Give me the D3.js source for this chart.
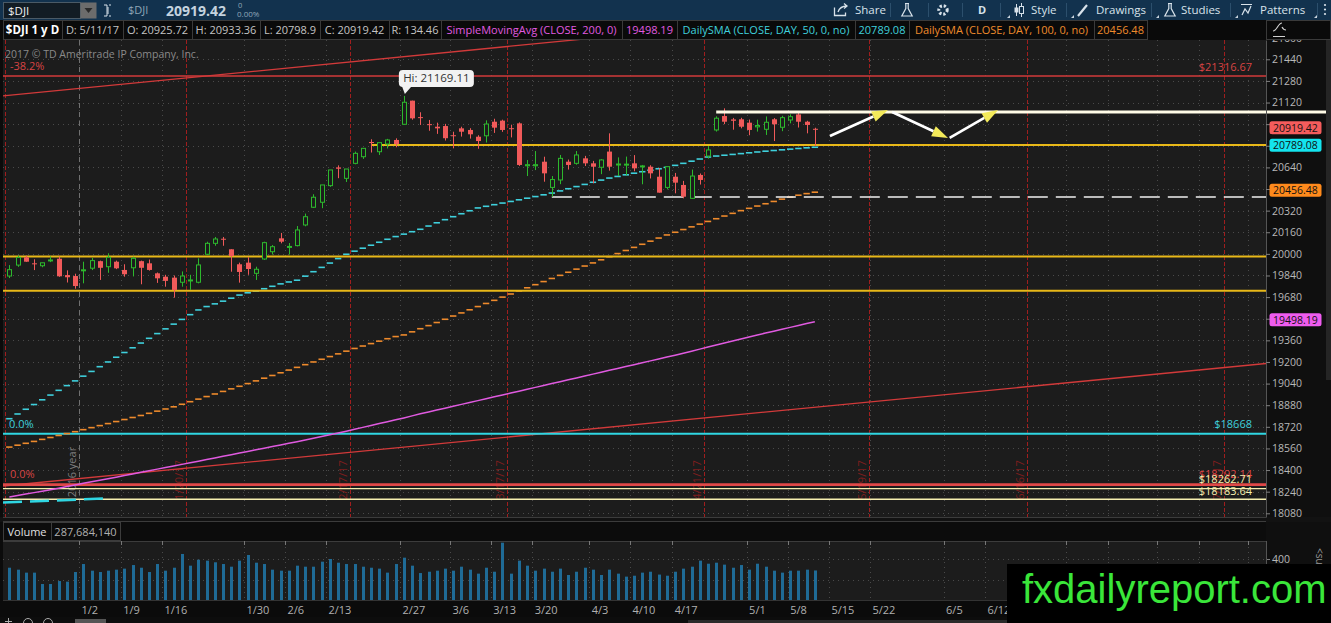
<!DOCTYPE html>
<html>
<head>
<meta charset="utf-8">
<script src="https://cdn.jsdelivr.net/npm/d3@7"></script>
<style>
  body { margin: 0; background: #0b0b0b; overflow: hidden; }
  svg { display: block; }
  text { font-family: "Open Sans", "DejaVu Sans", sans-serif; }
</style>
</head>
<body>
<svg id="chart" width="1331" height="623"></svg>
<script>
const open = [19836,19917,19974,19930,19912,19951,19964,19843,19836,19876,
  19894,19946,19905,19942,19881,19897,19946,19930,19856,19831,
  19824,19790,19800,19790,19997,20078,20112,20034,19923,19935,
  19856,19962,20016,20115,20050,20061,20214,20345,20382,20505,
  20640,20559,20670,20719,20828,20756,20813,20843,20959,21134,
  21012,20960,20941,20946,20878,20929,20917,20867,20874,20978,
  20986,20930,20966,20652,20652,20682,20492,20547,20682,20670,
  20707,20670,20641,20757,20660,20660,20670,20648,20645,20571,
  20492,20571,20510,20411,20584,20724,20917,21020,20995,20996,
  20971,20940,20922,20996,20937,20991,21032,20978,20925.72];
const high = [19917,19988,19987,19960,19934,19981,19981,19878,19853,19942,
  19970,19950,20004,19950,19923,19979,19950,19958,19862,19845,
  19840,19870,19845,19967,20090,20125,20125,20034,19935,19975,
  19905,20090,20065,20155,20080,20206,20298,20441,20510,20621,
  20655,20628,20757,20781,20848,20823,20851,20855,21169,21134,
  21048,20991,20971,20962,20904,20941,20930,20878,20988,21000,
  20993,20956,20973,20695,20761,20719,20576,20732,20698,20761,
  20725,20688,20701,20892,20714,20720,20731,20658,20656,20633,
  20645,20599,20540,20624,20595,20798,21018,21077,21006,21007,
  20994,20993,21017,21005,21022,21033,21046,20985,20933.36];
const low = [19821,19904,19941,19880,19901,19939,19830,19788,19742,19782,
  19880,19807,19860,19887,19831,19833,19775,19876,19785,19757,
  19676,19757,19733,19782,19990,20060,20060,19868,19787,19845,
  19807,19955,19995,20078,19995,20055,20204,20339,20338,20496,
  20560,20532,20663,20703,20750,20732,20780,20789,20957,20993,
  20954,20911,20888,20839,20781,20868,20853,20778,20824,20895,
  20903,20862,20651,20576,20620,20534,20423,20516,20624,20660,
  20650,20522,20590,20616,20576,20581,20611,20515,20558,20453,
  20477,20448,20411,20407,20513,20705,20905,20960,20919,20929,
  20878,20905,20880,20835,20908,20966,20935,20892,20798.9];
const close = [19883,19974,19942,19926,19934,19955,19834,19827,19762,19882,
  19950,19897,19975,19893,19849,19967,19897,19881,19819,19800,
  19733,19836,19807,19918,20078,20110,20106,19984,19866,19888,
  19886,20083,20053,20090,20055,20177,20275,20419,20510,20621,
  20630,20628,20744,20781,20820,20823,20843,20813,21122,21003,
  21006,20954,20929,20856,20872,20904,20885,20835,20961,20934,
  20917,20924,20658,20660,20660,20596,20550,20707,20658,20732,
  20670,20645,20695,20645,20665,20664,20633,20651,20596,20453,
  20645,20527,20423,20576,20547,20769,21004,20978,20985,20941,
  20917,20950,20974,20959,21008,21015,20978,20954,20919.42];
// volume, millions of shares
const volume = [315,296,267,267,156,156,185,179,273,351,
  286,273,286,296,306,341,315,273,351,286,
  315,449,335,393,384,368,351,325,384,439,
  364,351,296,286,286,335,325,325,374,400,
  364,351,351,325,315,306,267,351,413,335,
  263,276,286,306,286,325,296,257,315,276,
  559,257,384,335,286,306,276,306,244,276,
  315,296,244,296,257,228,237,267,276,248,
  237,276,306,325,384,354,364,345,315,341,
  296,354,325,286,267,286,286,296,288];
const sma50 = [18780,18815,18850,18885,18920,18955,18990,19025,19060,19095,
  19130,19165,19200,19235,19270,19305,19340,19375,19410,19445,
  19480,19515,19550,19585,19610,19630,19650,19672,19695,19712,
  19725,19742,19760,19778,19792,19805,19835,19868,19900,19932,
  19965,19997,20020,20042,20064,20086,20108,20128,20146,20164,
  20182,20206,20230,20253,20275,20297,20319,20340,20352,20364,
  20376,20388,20400,20412,20424,20437,20450,20466,20482,20498,
  20514,20530,20546,20561,20573,20585,20597,20608,20619,20630,
  20640,20655,20670,20686,20702,20717,20724,20730,20736,20742,
  20748,20754,20760,20765,20770,20775,20780,20785,20789.08];
const sma100 = [18570,18584,18598,18612,18627,18641,18656,18670,18684,18699,
  18714,18729,18744,18759,18774,18789,18804,18820,18836,18852,
  18868,18887,18906,18925,18944,18963,18982,19001,19020,19040,
  19060,19080,19100,19120,19140,19160,19180,19200,19220,19240,
  19260,19280,19300,19318,19336,19354,19372,19388,19400,19423,
  19446,19469,19492,19516,19540,19563,19586,19610,19633,19656,
  19680,19703,19726,19749,19772,19795,19818,19841,19864,19887,
  19910,19933,19956,19979,20002,20025,20048,20071,20094,20117,
  20140,20160,20180,20200,20220,20240,20260,20280,20300,20320,
  20337,20354,20371,20388,20405,20420,20434,20446,20456.48];
const sma200 = [18200,18211,18222,18233,18244,18255,18266,18278,18290,18302,
  18314,18325,18336,18347,18359,18371,18383,18395,18407,18419,
  18430,18442,18454,18466,18478,18490,18502,18514,18526,18538,
  18550,18562,18574,18586,18598,18610,18623,18636,18649,18662,
  18675,18688,18702,18716,18730,18744,18758,18772,18786,18801,
  18816,18830,18844,18858,18872,18886,18900,18914,18928,18942,
  18956,18970,18984,18998,19012,19026,19040,19054,19068,19082,
  19096,19110,19124,19138,19152,19166,19180,19194,19208,19222,
  19236,19250,19265,19280,19295,19310,19325,19340,19355,19370,
  19385,19400,19414,19428,19442,19456,19470,19484,19498.19];

const priceTicks = [18080,18240,18400,18560,18720,18880,19040,19200,19360,19520,19680,19840,
  20000,20160,20320,20480,20640,20800,20960,21120,21280,21440,21600];
const volTicks = [200, 400];
// labels past 6/12 sit under the watermark, so only their grid lines show
const tickLabels = ["1/2","1/9","1/16","1/30","2/6","2/13","2/27","3/6","3/13","3/20","4/3","4/10",
  "4/17","5/1","5/8","5/15","5/22","6/5","6/12","","","","",""];
const tickIdx = [8.48,13.55,18.57,28.55,33.54,38.52,47.53,53.61,58.56,63.62,70.56,75.51,
  80.65,89.7,94.7,99.72,104.7,113.66,118.7,128.55,133.66,139.6,144.7,150.7];
const expiryLabels = ["", "1/20/17", "2/17/17", "3/17/17", "4/21/17", "5/19/17", "6/16/17", "7/21/17"];
const expiryIdx = [-0.5, 21.5, 41.5, 60.5, 84.5, 104.6, 123.8, 147.8];
const yearIdx = 8.5;

// drawings on the chart (bar index, price)
const redLevels = [21316.67, 18292.14];
const creamLevels = [18262.71, 18183.64];
const cyanLevel = 18668;
const yellowLevels = [20806, 19980, 19727];
const yellowStart = [44, -0.77, -0.77];
const whiteLevel = 21050, whiteStart = 86;
const dashLevel = 20421, dashStart = 66;
const channelUpper = [[-0.77, 21169], [152.95, 22085]];
const channelLower = [[-0.77, 18282], [152.95, 19189]];
const cyanStub = [[-0.77, 18160], [11.88, 18190]];
const arrowFrom = [[99.84, 20872], [107.4, 21050], [114.4, 20858]];
const arrowTo = [[106.9, 21065], [114.2, 20858], [120.3, 21065]];
const hiIdx = 48, hiPrice = 21169.11;

// ---- colours ----
const BG = "#1c1c1c", UP = "#2db82d", DOWN = "#f05a5a";
const CYAN = "#3fd0dc", ORANGE = "#ee8a2c", MAGENTA = "#e05ae0", YELLOW = "#e8b818";

const svg = d3.select("#chart");
const x = d3.scaleLinear().domain([-0.77, 152.95]).range([3, 1266.5]);
const y = d3.scaleLinear().domain([18052.6, 21582.8]).range([517, 40]);
const yv = d3.scaleLinear().domain([0, 400]).range([600, 559]);
const cx = i => Math.round(x(i)) + 0.5;
const idx = d3.range(close.length);

svg.append("defs").append("clipPath").attr("id", "clipP")
  .append("rect").attr("x", 3).attr("y", 40).attr("width", 1263).attr("height", 477);

// backgrounds
svg.append("rect").attr("width", 1331).attr("height", 623).attr("fill", "#0b0b0b");
svg.append("rect").attr("x", 1266).attr("y", 40).attr("width", 65).attr("height", 577).attr("fill", "#0f0f0f");
svg.append("rect").attr("x", 3).attr("y", 40).attr("width", 1263).attr("height", 477).attr("fill", BG);
svg.append("rect").attr("x", 3).attr("y", 541).attr("width", 1263).attr("height", 59).attr("fill", BG);
svg.append("rect").attr("x", 0).attr("y", 517).attr("width", 1331).attr("height", 5).attr("fill", "#121212");
[517.5, 521.5, 541.5].forEach(v => svg.append("line").attr("x1", 3).attr("x2", 1266)
  .attr("y1", v).attr("y2", v).attr("stroke", "#3c3c3c"));
svg.append("line").attr("x1", 3).attr("x2", 1266).attr("y1", 600.5).attr("y2", 600.5).attr("stroke", "#333");

// grid
const grid = svg.append("g").attr("stroke", "#4a4a4a").attr("stroke-dasharray", "1,4");
grid.selectAll("line.h").data(priceTicks).join("line").attr("class", "h")
  .attr("x1", 3).attr("x2", 1266)
  .attr("y1", d => Math.round(y(d)) + 0.5).attr("y2", d => Math.round(y(d)) + 0.5);
grid.selectAll("line.hv").data(volTicks).join("line").attr("class", "hv")
  .attr("x1", 3).attr("x2", 1266)
  .attr("y1", d => Math.round(yv(d)) + 0.5).attr("y2", d => Math.round(yv(d)) + 0.5);
grid.selectAll("line.v").data(tickIdx).join("line").attr("class", "v")
  .attr("x1", cx).attr("x2", cx).attr("y1", 40).attr("y2", 517);
grid.selectAll("line.vv").data(tickIdx).join("line").attr("class", "vv")
  .attr("x1", cx).attr("x2", cx).attr("y1", 542).attr("y2", 600);

const pane = svg.append("g").attr("clip-path", "url(#clipP)");

// year separator
pane.append("line").attr("x1", cx(yearIdx)).attr("x2", cx(yearIdx)).attr("y1", 40).attr("y2", 517)
  .attr("stroke", "#707070").attr("stroke-dasharray", "5,4");
pane.append("text").attr("transform", `translate(${cx(yearIdx) - 4},472) rotate(-90)`)
  .attr("text-anchor", "middle").attr("font-size", 11).attr("fill", "#7c7c7c").text("2016 year");

// expiration lines
pane.selectAll("line.exp").data(expiryIdx).join("line").attr("class", "exp")
  .attr("x1", cx).attr("x2", cx).attr("y1", 40).attr("y2", 517)
  .attr("stroke", "#a01e1e").attr("stroke-dasharray", "4,2");
pane.selectAll("text.exp").data(expiryIdx).join("text").attr("class", "exp")
  .attr("transform", d => `translate(${cx(d) - 4},480) rotate(-90)`)
  .attr("text-anchor", "middle").attr("font-size", 11).attr("fill", "#7e1e1e")
  .text((d, i) => expiryLabels[i]);

// channel lines
const seg = (g, p, col, w) => g.append("line")
  .attr("x1", x(p[0][0])).attr("y1", y(p[0][1])).attr("x2", x(p[1][0])).attr("y2", y(p[1][1]))
  .attr("stroke", col).attr("stroke-width", w);
seg(pane, channelUpper, "#d23a3a", 1.3);
seg(pane, channelLower, "#d23a3a", 1.3);

// horizontal levels
pane.append("line").attr("x1", 3).attr("x2", 1266).attr("y1", y(redLevels[0])).attr("y2", y(redLevels[0]))
  .attr("stroke", "#d23a3a").attr("stroke-width", 1.5);
pane.append("line").attr("x1", 3).attr("x2", 1266).attr("y1", y(redLevels[1])).attr("y2", y(redLevels[1]))
  .attr("stroke", "#e04848").attr("stroke-width", 2.6);
creamLevels.forEach(v => pane.append("line").attr("x1", 3).attr("x2", 1266).attr("y1", y(v)).attr("y2", y(v))
  .attr("stroke", "#f6efb0").attr("stroke-width", 1.4));
pane.append("line").attr("x1", 3).attr("x2", 1266).attr("y1", y(cyanLevel)).attr("y2", y(cyanLevel))
  .attr("stroke", "#2fd6e2").attr("stroke-width", 2);
seg(pane, cyanStub, "#2fd6e2", 2.5).attr("stroke-dasharray", "19,8");

// moving averages
pane.append("path").datum(sma200)
  .attr("d", d3.line().x((d, i) => x(i)).y(d => y(d)))
  .attr("fill", "none").attr("stroke", MAGENTA).attr("stroke-width", 1.5);
[[sma100, ORANGE], [sma50, CYAN]].forEach(([s, col]) => {
  pane.append("g").selectAll("line").data(s).join("line")
    .attr("x1", (d, i) => x(i) - 3.2).attr("x2", (d, i) => x(i) + 3.2)
    .attr("y1", d => y(d)).attr("y2", d => y(d))
    .attr("stroke", col).attr("stroke-width", 1.6);
});

// yellow support / resistance
yellowLevels.forEach((v, k) => pane.append("line")
  .attr("x1", x(yellowStart[k])).attr("x2", 1266).attr("y1", y(v)).attr("y2", y(v))
  .attr("stroke", YELLOW).attr("stroke-width", 2));
pane.append("line").attr("x1", x(dashStart)).attr("x2", 1266).attr("y1", y(dashLevel)).attr("y2", y(dashLevel))
  .attr("stroke", "#f0f0f0").attr("stroke-width", 1.6).attr("stroke-dasharray", "20,8");

// candles
pane.selectAll("line.wick").data(idx).join("line").attr("class", "wick")
  .attr("x1", cx).attr("x2", cx)
  .attr("y1", i => y(high[i])).attr("y2", i => y(low[i]))
  .attr("stroke", i => close[i] >= open[i] ? UP : DOWN);
pane.selectAll("rect.body").data(idx).join("rect").attr("class", "body")
  .attr("x", i => close[i] >= open[i] ? cx(i) - 2 : cx(i) - 2.5)
  .attr("width", i => close[i] >= open[i] ? 4 : 5)
  .attr("y", i => y(Math.max(open[i], close[i])))
  .attr("height", i => Math.max(1, Math.abs(y(open[i]) - y(close[i]))))
  .attr("fill", i => close[i] >= open[i] ? BG : DOWN)
  .attr("stroke", i => close[i] >= open[i] ? UP : "none");

// level labels inside the pane
const lbl = (t, px, py, col, anchor) => svg.append("text").attr("x", px).attr("y", py)
  .attr("text-anchor", anchor || "end").attr("font-size", 11).attr("fill", col).text(t);
const money = d3.format(".2f");
lbl("$" + money(redLevels[0]), 1252, y(redLevels[0]) - 5, "#d84444");
lbl("$" + cyanLevel, 1252, y(cyanLevel) - 6, CYAN);
lbl("$" + money(redLevels[1]), 1252, y(redLevels[1]) - 6.5, "#d84444");
lbl("$" + money(creamLevels[0]), 1252, y(creamLevels[0]) - 5.5, "#f6efb0");
lbl("$" + money(creamLevels[1]), 1252, y(creamLevels[1]) - 4.5, "#f6efb0");
lbl("-38.2%", 10, y(redLevels[0]) - 5.5, "#d84444", "start");
lbl("0.0%", 9, y(cyanLevel) - 6, CYAN, "start");
lbl("0.0%", 10, y(redLevels[1]) - 6.5, "#d84444", "start");
svg.append("text").attr("x", 5).attr("y", 58).attr("font-size", 10.5).attr("fill", "#8a8a8a")
  .text("2017 \u00a9 TD Ameritrade IP Company, Inc.");

// white resistance line (runs over the axis to the window edge)
svg.append("line").attr("x1", x(whiteStart)).attr("x2", 1331).attr("y1", y(whiteLevel)).attr("y2", y(whiteLevel))
  .attr("stroke", "#fffbe6").attr("stroke-width", 3);

// arrows
arrowFrom.forEach((a, k) => {
  const b = arrowTo[k];
  const x0 = x(a[0]), y0 = y(a[1]), x1 = x(b[0]), y1 = y(b[1]);
  const L = Math.hypot(x1 - x0, y1 - y0), ux = (x1 - x0) / L, uy = (y1 - y0) / L;
  const bx = x1 - ux * 16, by = y1 - uy * 16;
  svg.append("line").attr("x1", x0).attr("y1", y0).attr("x2", bx).attr("y2", by)
    .attr("stroke", "#ffffff").attr("stroke-width", 2.6);
  svg.append("polygon")
    .attr("points", `${x1},${y1} ${bx - uy * 5.5},${by + ux * 5.5} ${bx + uy * 5.5},${by - ux * 5.5}`)
    .attr("fill", "#f3ea5a");
});

// high callout
const hx = x(hiIdx), hy = y(hiPrice);
svg.append("path").attr("d", `M${hx - 2},${hy - 10} L${hx + 1},${hy - 2} L${hx + 8},${hy - 10} Z`).attr("fill", "#f2f2f2");
svg.append("rect").attr("x", hx - 5).attr("y", hy - 26).attr("width", 75).attr("height", 17).attr("rx", 4)
  .attr("fill", "#f2f2f2");
svg.append("text").attr("x", hx + 32.5).attr("y", hy - 13.5).attr("text-anchor", "middle")
  .attr("font-size", 11.5).attr("fill", "#333").text("Hi: " + hiPrice.toFixed(2));

// volume bars
svg.append("g").selectAll("rect").data(volume).join("rect")
  .attr("x", (d, i) => Math.round(x(i)) - 1).attr("width", 3)
  .attr("y", d => yv(d)).attr("height", d => 600 - yv(d))
  .attr("fill", "#1f6b96");

// x tick marks at top of volume pane
svg.append("g").selectAll("line").data(tickIdx).join("line")
  .attr("x1", cx).attr("x2", cx).attr("y1", 541).attr("y2", 545).attr("stroke", "#777");

// colored last-value boxes on the price axis
const boxes = [[close[98], "#f45c5c"], [sma50[98], "#14e4ee"], [sma100[98], "#ff8a1c"], [sma200[98], "#ef5cef"]];
const boxY = boxes.map(b => y(b[0]) - 2);

// axes (labels covered by a value box are left out, as in the platform)
const yAxis = svg.append("g").attr("transform", "translate(1266,0)")
  .call(d3.axisRight(y).tickValues(priceTicks).tickSize(4).tickSizeOuter(0).tickPadding(2)
    .tickFormat(d => boxY.some(b => Math.abs(b - y(d)) < 9) ? "" : d3.format("d")(d)));
yAxis.select(".domain").attr("stroke", "#555");
yAxis.selectAll("line").attr("stroke", "#808080");
yAxis.selectAll("text").attr("fill", "#b8b8b8").attr("font-size", 10.5);
const vAxis = svg.append("g").attr("transform", "translate(1266,0)")
  .call(d3.axisRight(yv).tickValues(volTicks).tickSize(4).tickSizeOuter(0).tickPadding(2)
    .tickFormat(d => d === 400 ? "400" : ""));
vAxis.select(".domain").remove();
vAxis.selectAll("line").attr("stroke", "#808080");
vAxis.selectAll("text").attr("fill", "#b8b8b8").attr("font-size", 10.5);
svg.append("line").attr("x1", 1266.5).attr("x2", 1266.5).attr("y1", 541).attr("y2", 600).attr("stroke", "#555");

const xAxis = svg.append("g").attr("transform", "translate(0,600)")
  .call(d3.axisBottom(x).tickValues(tickIdx).tickFormat((d, i) => tickLabels[i]).tickSize(0).tickPadding(6));
xAxis.select(".domain").remove();
xAxis.selectAll("text").attr("text-anchor", "start").attr("x", 2).attr("fill", "#b0b0b0").attr("font-size", 11);

boxes.forEach(([v, col], k) => {
  const by = boxY[k];
  svg.append("rect").attr("x", 1269.5).attr("y", by - 6.5).attr("width", 52).attr("height", 13).attr("rx", 2.5)
    .attr("fill", col);
  svg.append("text").attr("x", 1295.5).attr("y", by + 4).attr("text-anchor", "middle")
    .attr("font-size", 10.5).attr("fill", "#111").text(money(v));
});

// volume header row
svg.append("rect").attr("x", 3).attr("y", 522).attr("width", 1263).attr("height", 19).attr("fill", "#0c0c0c");
[[3, 51, "Volume", "#e0e0e0"], [51, 120, d3.format(",")(287684140), "#b0b0b0"]].forEach(([a, b, t, col]) => {
  svg.append("rect").attr("x", a + 0.5).attr("y", 522.5).attr("width", b - a).attr("height", 18)
    .attr("fill", "none").attr("stroke", "#3c3c3c");
  svg.append("text").attr("x", (a + b) / 2).attr("y", 535.5).attr("text-anchor", "middle")
    .attr("font-size", 11).attr("fill", col).text(t);
});

// right side strip
svg.append("rect").attr("x", 1326).attr("y", 40).attr("width", 5).attr("height", 340).attr("fill", "#252525");
svg.append("text").attr("transform", "translate(1316,548) rotate(90)").attr("font-size", 10)
  .attr("fill", "#9a9a9a").text("<su");

// bottom strip
svg.append("rect").attr("x", 0).attr("y", 617).attr("width", 1331).attr("height", 6).attr("fill", "#0d0d0d");
svg.append("path").attr("d", "M5,621.5 h7 M8.5,618 v5").attr("stroke", "#aaa");
[28, 48].forEach(c => svg.append("circle").attr("cx", c).attr("cy", 623).attr("r", 4.5)
  .attr("fill", "none").attr("stroke", "#aaa"));
svg.append("rect").attr("x", 75).attr("y", 619).attr("width", 31).attr("height", 4).attr("fill", "#555");
svg.append("rect").attr("x", 688).attr("y", 620).attr("width", 320).attr("height", 3).attr("fill", "#2a2a2a");

// ---- toolbar (top row) ----
svg.append("rect").attr("x", 0).attr("y", 0).attr("width", 1331).attr("height", 20).attr("fill", "#12324e");
svg.append("rect").attr("x", 3.5).attr("y", 2.5).attr("width", 77).attr("height", 16).attr("fill", "#121c24").attr("stroke", "#4a5a66");
svg.append("text").attr("x", 8).attr("y", 15).attr("font-size", 11.5).attr("fill", "#f0f0f0").text("$DJI");
svg.append("rect").attr("x", 80.5).attr("y", 2.5).attr("width", 16).attr("height", 16).attr("fill", "#6c6c6c");
svg.append("path").attr("d", "M84.5,8 L92.5,8 L88.5,13 Z").attr("fill", "#2a2a2a");
svg.append("path").attr("d", "M104,5 h3 v11 h-3 M108,7 v7 M111,5 h-2 M111,16 h-2").attr("stroke", "#d8e2ea").attr("fill", "none");
svg.append("text").attr("x", 128).attr("y", 14).attr("font-size", 11).attr("fill", "#8fa6b8").text("$DJI");
svg.append("text").attr("x", 166).attr("y", 15.5).attr("font-size", 14).attr("font-weight", "bold").attr("fill", "#c4d3df").text("20919.42");
svg.append("text").attr("x", 238).attr("y", 8).attr("font-size", 7.5).attr("fill", "#8fa6b8").text("0");
svg.append("text").attr("x", 237).attr("y", 17).attr("font-size", 8).attr("fill", "#8fa6b8").text("0.00%");
[890, 928, 962, 1000, 1066, 1151, 1230, 1317].forEach(s => svg.append("line")
  .attr("x1", s + 0.5).attr("x2", s + 0.5).attr("y1", 3).attr("y2", 17).attr("stroke", "#2c4f6c"));
const tb = svg.append("g").attr("fill", "#d8e2ea").attr("font-size", 11.5);
tb.append("text").attr("x", 855).attr("y", 14).text("Share");
tb.append("text").attr("x", 1031).attr("y", 14).text("Style");
tb.append("text").attr("x", 1096).attr("y", 14).text("Drawings");
tb.append("text").attr("x", 1181).attr("y", 14).text("Studies");
tb.append("text").attr("x", 1260).attr("y", 14).text("Patterns");
tb.append("text").attr("x", 978).attr("y", 14).attr("font-weight", "bold").attr("font-size", 11).text("D");
svg.append("path").attr("d", "M834.5,7.5 v8 h11 v-3 M838,12 q2,-6 9,-6 M844,3.5 l3,2.5 l-3,2.5").attr("stroke", "#d8e2ea").attr("fill", "none").attr("stroke-width", 1.3);
const flask = (fx) => svg.append("path")
  .attr("d", `M${fx - 2},3.5 h4 M${fx - 1.2},3.5 v5 l-4,7.5 h10.4 l-4,-7.5 v-5`)
  .attr("stroke", "#d8e2ea").attr("fill", "none").attr("stroke-width", 1.2);
flask(907); flask(1170);
svg.append("circle").attr("cx", 943).attr("cy", 10).attr("r", 4.2).attr("fill", "none")
  .attr("stroke", "#d8e2ea").attr("stroke-width", 3).attr("stroke-dasharray", "2.2,1.8");
svg.append("circle").attr("cx", 943).attr("cy", 10).attr("r", 1.5).attr("fill", "#12324e");
svg.append("path").attr("d", "M1016.5,4 v12 M1021.5,3 v14").attr("stroke", "#d8e2ea");
svg.append("rect").attr("x", 1019.5).attr("y", 6.5).attr("width", 4).attr("height", 7).attr("fill", "#12324e").attr("stroke", "#d8e2ea");
svg.append("rect").attr("x", 1014.5).attr("y", 7.5).attr("width", 4).attr("height", 5).attr("fill", "#d8e2ea");
svg.append("path").attr("d", "M1078,16 l9,-11").attr("stroke", "#d8e2ea").attr("stroke-width", 2.2);
svg.append("path").attr("d", "M1241,4.5 h11 M1242,15 l3,-6 l3,4 l3,-7").attr("stroke", "#d8e2ea").attr("fill", "none").attr("stroke-width", 1.2);
[1007, 1071, 1156, 1235, 1314].forEach(t => svg.append("path")
  .attr("d", `M${t},18 l3,-3 v3 Z`).attr("fill", "#c8d4de"));
[5, 9.5, 14].forEach(d => svg.append("circle").attr("cx", 1325).attr("cy", d).attr("r", 1.1).attr("fill", "#d8e2ea"));

// ---- study / quote row ----
svg.append("rect").attr("x", 0).attr("y", 20).attr("width", 1331).attr("height", 20).attr("fill", "#0a0a0a");
const infoCells = [
  ["$DJI 1 y D", 3, 62, "#ffffff", true],
  ["D: 5/11/17", 62, 123, "#c4c4c4"],
  ["O: " + open[98], 123, 192, "#c4c4c4"],
  ["H: " + high[98], 192, 260, "#c4c4c4"],
  ["L: " + low[98], 260, 320, "#c4c4c4"],
  ["C: " + close[98], 320, 389, "#c4c4c4"],
  ["R: " + money(high[98] - low[98]), 389, 441, "#c4c4c4"],
  ["SimpleMovingAvg (CLOSE, 200, 0)", 441, 622, MAGENTA],
  [money(sma200[98]), 622, 677, MAGENTA],
  ["DailySMA (CLOSE, DAY, 50, 0, no)", 677, 855, CYAN],
  [money(sma50[98]), 855, 909, CYAN],
  ["DailySMA (CLOSE, DAY, 100, 0, no)", 909, 1094, ORANGE],
  [money(sma100[98]), 1094, 1147, ORANGE]
];
infoCells.forEach(([t, a, b, col, bold]) => {
  svg.append("rect").attr("x", a + 0.5).attr("y", 20.5).attr("width", b - a).attr("height", 19)
    .attr("fill", "none").attr("stroke", "#3a3a3a");
  svg.append("text").attr("x", (a + b) / 2).attr("y", 34).attr("text-anchor", "middle")
    .attr("font-size", bold ? 11.5 : 11).attr("font-weight", bold ? "bold" : "normal")
    .attr("fill", col).text(t);
});
svg.append("rect").attr("x", 1266.5).attr("y", 20.5).attr("width", 64).attr("height", 19)
  .attr("fill", "none").attr("stroke", "#3a3a3a");
svg.append("path").attr("d", "M1273,31 c4,0 5,-8 9,-8 M1273,36.5 h12 M1282,27 c1,2 2,3 4,3")
  .attr("stroke", "#d0d0d0").attr("fill", "none").attr("stroke-width", 1.2);

// ---- watermark ----
svg.append("rect").attr("x", 1007).attr("y", 564).attr("width", 324).attr("height", 59).attr("fill", "#000");
svg.append("text").attr("x", 1022).attr("y", 603)
  .style("font-family", "'Liberation Sans', Arial, sans-serif")
  .attr("font-size", 40).attr("fill", "#3ae63a").text("fxdailyreport.com");
</script>
</body>
</html>
